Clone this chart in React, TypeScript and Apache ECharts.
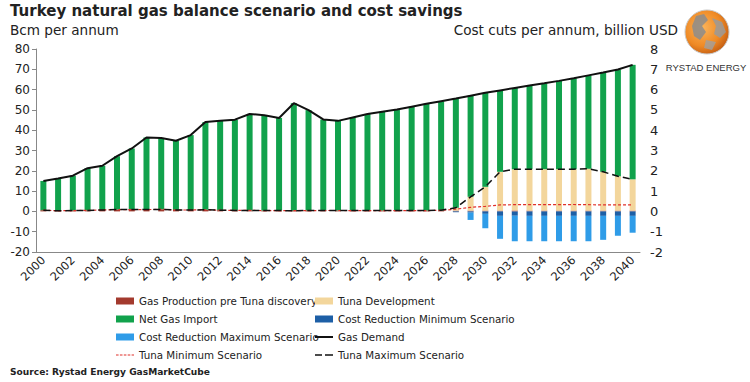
import React, { useEffect, useRef } from "react";
import * as echarts from "echarts";

const years: string[] = [];
for (let y = 2000; y <= 2040; y++) years.push(String(y));

const gasDemand = [15, 16.2, 17.6, 21.3, 22.5, 27.2, 31, 36.4, 36.2, 34.8, 37.6, 44, 44.6, 45.2, 48, 47.4, 46, 53.3, 49.9, 45.3, 44.6, 46.3, 48, 49.1, 50.2, 51.6, 53, 54.3, 55.6, 57, 58.4, 59.6, 60.8, 62, 63.1, 64.3, 65.6, 67, 68.4, 69.9, 72.2];
const productionPreTuna = [0.6, 0.3, 0.4, 0.5, 0.7, 0.9, 0.9, 0.9, 1.0, 0.7, 0.7, 0.8, 0.6, 0.5, 0.5, 0.4, 0.4, 0.35, 0.4, 0.45, 0.45, 0.4, 0.4, 0.4, 0.4, 0.4, 0.4, 0.4, 0.4, 0.4, 0.4, 0.4, 0.4, 0.4, 0.4, 0.4, 0.4, 0.4, 0.4, 0.4, 0.4];
const tunaMaximum = [0.6, 0.3, 0.4, 0.5, 0.7, 0.9, 0.9, 0.9, 1.0, 0.7, 0.7, 0.8, 0.6, 0.5, 0.5, 0.4, 0.4, 0.35, 0.4, 0.45, 0.45, 0.4, 0.4, 0.4, 0.4, 0.4, 0.4, 0.6, 1.8, 7.2, 12.1, 19.5, 20.8, 20.8, 20.8, 20.8, 20.8, 21, 19.5, 17.3, 15.8];
const tunaMinimum = [0.6, 0.3, 0.4, 0.5, 0.7, 0.9, 0.9, 0.9, 1.0, 0.7, 0.7, 0.8, 0.6, 0.5, 0.5, 0.4, 0.4, 0.35, 0.4, 0.45, 0.45, 0.4, 0.4, 0.4, 0.4, 0.4, 0.4, 0.5, 1.1, 2.0, 2.5, 3.2, 3.3, 3.3, 3.3, 3.3, 3.4, 3.3, 3.2, 3.2, 3.2];
const costReductionMin = [0, 0, 0, 0, 0, 0, 0, 0, 0, 0, 0, 0, 0, 0, 0, 0, 0, 0, 0, 0, 0, 0, 0, 0, 0, 0, 0, 0, -0.04, -0.06, -0.12, -0.22, -0.22, -0.22, -0.22, -0.22, -0.22, -0.22, -0.22, -0.22, -0.22];
const costReductionMax = [0, 0, 0, 0, 0, 0, 0, 0, 0, 0, 0, 0, 0, 0, 0, 0, 0, 0, 0, 0, 0, 0, 0, 0, 0, 0, 0, 0, -0.04, -0.42, -0.83, -1.35, -1.47, -1.47, -1.47, -1.47, -1.47, -1.47, -1.4, -1.2, -1.05];

const leftTicks = { min: -20, max: 80, interval: 10 };
const rightTicks = { min: -2, max: 8, interval: 1 };

const FONT = "DejaVu Sans";

const ICON_SOLID = "path://M0,0H18V2H0Z";
const ICON_LONGDASH = "path://M0,0H7V1.6H0Z M10,0H18V1.6H10Z";
const ICON_SHORTDASH = "path://M0,0H2.6V1.2H0Z M3.9,0H6.5V1.2H3.9Z M7.8,0H10.4V1.2H7.8Z M11.7,0H14.3V1.2H11.7Z M15.6,0H18V1.2H15.6Z";

export default function App() {
  const ref = useRef<HTMLDivElement>(null);
  useEffect(() => {
    if (!ref.current) return;
    const chart = echarts.init(ref.current, undefined, { renderer: "svg" });
    const tunaDev = tunaMaximum.map((v, i) => (i >= 28 ? +(v - productionPreTuna[i]).toFixed(2) : 0));
    const netImport = gasDemand.map((d, i) => +(d - productionPreTuna[i] - tunaDev[i]).toFixed(2));
    const maxExtra = costReductionMax.map((v, i) => +(v - costReductionMin[i]).toFixed(2));
    const barW = 6;
    const legendText = { fontFamily: FONT, fontSize: 10.3, color: "#222" };
    const option: any = {
      animation: false,
      textStyle: { fontFamily: FONT },
      title: [
        { text: "Turkey natural gas balance scenario and cost savings", left: 10, top: 3, padding: 0, textStyle: { fontFamily: FONT, fontSize: 15, fontWeight: "bold", color: "#222" } },
        { text: "Bcm per annum", left: 10, top: 23, padding: 0, textStyle: { fontFamily: FONT, fontSize: 13.6, fontWeight: "normal", color: "#222" } },
        { text: "Cost cuts per annum, billion USD", right: 72, top: 23, padding: 0, textStyle: { fontFamily: FONT, fontSize: 13.6, fontWeight: "normal", color: "#222" } },
        { text: "Source: Rystad Energy GasMarketCube", left: 10, top: 367, padding: 0, textStyle: { fontFamily: FONT, fontSize: 9.1, fontWeight: "bold", color: "#222" } },
      ],
      grid: { left: 36, right: 110, top: 49, bottom: 130 },
      legend: [
        {
          orient: "vertical", left: 116, top: 296, padding: 0, itemWidth: 18, itemHeight: 7, itemGap: 8,
          textStyle: legendText,
          data: [
            { name: "Gas Production pre Tuna discovery", icon: "rect" },
            { name: "Net Gas Import", icon: "rect" },
            { name: "Cost Reduction Maximum Scenario", icon: "rect" },
            { name: "Tuna Minimum Scenario", icon: ICON_SHORTDASH },
          ],
        },
        {
          orient: "vertical", left: 315, top: 296, padding: 0, itemWidth: 18, itemHeight: 7, itemGap: 8,
          textStyle: legendText,
          data: [
            { name: "Tuna Development", icon: "rect" },
            { name: "Cost Reduction Minimum Scenario", icon: "rect" },
            { name: "Gas Demand", icon: ICON_SOLID },
            { name: "Tuna Maximum Scenario", icon: ICON_LONGDASH },
          ],
        },
      ],
      xAxis: {
        type: "category",
        data: years,
        axisLine: { onZero: false, lineStyle: { color: "#888" } },
        axisTick: { interval: 0, length: 4, lineStyle: { color: "#888" } },
        axisLabel: { interval: 1, rotate: 45, fontSize: 11.5, color: "#222", margin: 6, fontFamily: FONT },
      },
      yAxis: [
        {
          type: "value", ...leftTicks,
          axisLine: { show: true, lineStyle: { color: "#888" } },
          axisTick: { show: true, length: 4, lineStyle: { color: "#888" } },
          splitLine: { show: false },
          axisLabel: { fontSize: 12, color: "#222", margin: 6, fontFamily: FONT },
        },
        {
          type: "value", position: "right", ...rightTicks,
          axisLine: { show: false }, axisTick: { show: false }, splitLine: { show: false },
          axisLabel: { fontSize: 13, color: "#222", margin: 10, fontFamily: FONT },
        },
      ],
      series: [
        { name: "Gas Production pre Tuna discovery", type: "bar", stack: "left", yAxisIndex: 0, barWidth: barW, barGap: "-100%", data: productionPreTuna, itemStyle: { color: "#a33a2e" } },
        { name: "Tuna Development", type: "bar", stack: "left", yAxisIndex: 0, barWidth: barW, barGap: "-100%", data: tunaDev, itemStyle: { color: "#f3d69c" } },
        { name: "Net Gas Import", type: "bar", stack: "left", yAxisIndex: 0, barWidth: barW, barGap: "-100%", data: netImport, itemStyle: { color: "#11a24c" } },
        { name: "Cost Reduction Minimum Scenario", type: "bar", stack: "right", yAxisIndex: 1, barWidth: barW, barGap: "-100%", data: costReductionMin, itemStyle: { color: "#1d5fa6" } },
        { name: "Cost Reduction Maximum Scenario", type: "bar", stack: "right", yAxisIndex: 1, barWidth: barW, barGap: "-100%", data: maxExtra, itemStyle: { color: "#2f9ce8" } },
        { name: "Gas Demand", type: "line", yAxisIndex: 0, data: gasDemand, symbol: "none", lineStyle: { color: "#111", width: 2 }, itemStyle: { color: "#111" } },
        { name: "Tuna Minimum Scenario", type: "line", yAxisIndex: 0, data: tunaMinimum, symbol: "none", lineStyle: { color: "#e0302a", width: 1.2, type: [3, 2] }, itemStyle: { color: "#e0302a" } },
        { name: "Tuna Maximum Scenario", type: "line", yAxisIndex: 0, data: tunaMaximum, symbol: "none", lineStyle: { color: "#111", width: 1.5, type: [7, 4] }, itemStyle: { color: "#111" } },
      ],
      graphic: [
        {
          type: "circle", shape: { cx: 707, cy: 32, r: 22 },
          style: {
            stroke: "#c9c9c9", lineWidth: 1,
            fill: new echarts.graphic.RadialGradient(0.4, 0.4, 0.7, [
              { offset: 0, color: "#fbb45a" },
              { offset: 0.6, color: "#ef8a25" },
              { offset: 1, color: "#b9530f" },
            ]),
          },
        },
        { type: "polygon", shape: { points: [[696, 16], [704, 14], [708, 20], [702, 26], [706, 32], [700, 40], [694, 36], [692, 26]] }, style: { fill: "#8c8c8c", opacity: 0.85 } },
        { type: "polygon", shape: { points: [[712, 18], [722, 22], [726, 32], [720, 38], [714, 34], [716, 26]] }, style: { fill: "#9a9a9a", opacity: 0.85 } },
        { type: "polygon", shape: { points: [[706, 40], [716, 42], [712, 50], [704, 48]] }, style: { fill: "#a0a0a0", opacity: 0.8 } },
        { type: "text", x: 706, y: 67, style: { text: "RYSTAD ENERGY", fontFamily: "Liberation Sans", fontSize: 9.5, fill: "#333", align: "center", verticalAlign: "middle" } },
      ],
    };
    chart.setOption(option);
    return () => chart.dispose();
  }, []);
  return <div ref={ref} style={{ width: 750, height: 382, position: "absolute", left: 0, top: 0 }} />;
}
